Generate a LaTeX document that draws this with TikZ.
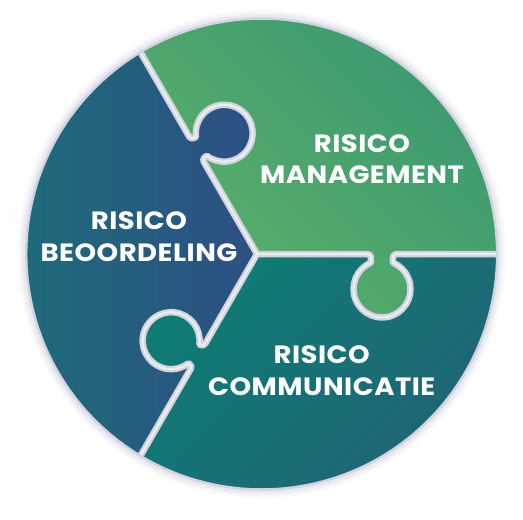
\documentclass[tikz,border=0pt]{standalone}
\usepackage{fontspec}
\setmainfont{Poppins}[FakeStretch=1.1, LetterSpace=2]
\definecolor{greenL}{HTML}{5DB06B}
\definecolor{greenD}{HTML}{3B9970}
\definecolor{blueL}{HTML}{1E6B7A}
\definecolor{blueD}{HTML}{2F4B85}
\definecolor{tealL}{HTML}{0E7D74}
\definecolor{tealD}{HTML}{216376}
\definecolor{gapc}{HTML}{D2D5DE}
\definecolor{gaphic}{HTML}{ECEDF2}
\definecolor{rimc}{HTML}{D3D4E2}
\definecolor{glowc}{HTML}{C4C6D6}
% knob part of an edge, local frame: x along the edge, knob on +y
\newcommand\knobpart[2]{({#1-14.5},0) .. controls ({#1-12.5},0) and ({#1-11},1.5) .. ({#1-11},3.5) -- ({#1-11},{#2-26.29}) arc[start angle=247.3, end angle=-67.3, radius=28.5] -- ({#1+11},3.5) .. controls ({#1+11},1.5) and ({#1+12.5},0) .. ({#1+14.5},0)}
\begin{document}
\begin{tikzpicture}[x=1pt,y=1pt,
  lbl/.style={text=white, font=\fontsize{25}{28}\selectfont\bfseries, inner sep=0pt, anchor=base},
  gap/.style={line width=6.5pt, draw=gapc, line join=round, line cap=round},
  gaphi/.style={line width=2.2pt, draw=gaphic, line join=round, line cap=round},
  greenshade/.style={left color=greenL, right color=greenD, shading angle=135},
  blueshade/.style={left color=blueL, right color=blueD, shading angle=90},
  tealshade/.style={left color=tealL, right color=tealD, shading angle=45}]
\useasboundingbox (-257,-266) rectangle (266,254);
\coordinate (J) at (0,0);
\coordinate (C) at (4.7,0);
% soft glow around the disc
\foreach \w/\o in {16/0.10,11/0.14,7/0.18}
  \draw[draw=glowc, line width=\w pt, opacity=\o] (C) circle (236);
\begin{scope}
  \clip (C) circle (236);
  % teal piece (whole disc as base)
  \shade[tealshade] (-120,-240) rectangle (245,5);
  % blue piece sector
  \begin{scope}
    \clip (J) -- (120:400) -- (180:400) -- (240:400) -- cycle;
    \shade[blueshade] (-235,-240) rectangle (30,240);
  \end{scope}
  % green piece sector
  \begin{scope}
    \clip (J) -- (0:400) -- (60:400) -- (120:400) -- cycle;
    \shade[greenshade] (-125,-70) rectangle (245,240);
  \end{scope}
  % green knob into teal
  \begin{scope}
    \clip[rotate=0, yscale=-1] (110.5,-2) -- \knobpart{125}{35} -- (139.5,-2) -- cycle;
    \shade[greenshade] (-125,-70) rectangle (245,240);
  \end{scope}
  % blue knob into green
  \begin{scope}
    \clip[rotate=120, yscale=-1] (106.5,-2) -- \knobpart{121}{32} -- (135.5,-2) -- cycle;
    \shade[blueshade] (-235,-240) rectangle (30,240);
  \end{scope}
  % teal knob into blue
  \begin{scope}
    \clip[rotate=240, yscale=-1] (103.5,-2) -- \knobpart{118}{31} -- (132.5,-2) -- cycle;
    \shade[tealshade] (-120,-240) rectangle (245,5);
  \end{scope}
  % gaps between the pieces
  \draw[gap, rotate=0, yscale=-1] (J) -- \knobpart{125}{35} -- (260,0);
  \draw[gap, rotate=120, yscale=-1] (J) -- \knobpart{121}{32} -- (260,0);
  \draw[gap, rotate=240, yscale=-1] (J) -- \knobpart{118}{31} -- (260,0);
  \draw[gaphi, rotate=0, yscale=-1] (J) -- \knobpart{125}{35} -- (260,0);
  \draw[gaphi, rotate=120, yscale=-1] (J) -- \knobpart{121}{32} -- (260,0);
  \draw[gaphi, rotate=240, yscale=-1] (J) -- \knobpart{118}{31} -- (260,0);
\end{scope}
% rim
\draw[draw=rimc, line width=2.5pt] (C) circle (235.5);
% labels
\node[lbl] (m1) at (105,102) {RISICO};
\node[lbl] (m2) at (105,70.7) {MANAGEMENT};
\node[lbl] (b1) at (-118,24.7) {RISICO};
\node[lbl] (b2) at (-118,-7.7) {BEOORDELING};
\node[lbl] (c1) at (64.7,-109.3) {RISICO};
\node[lbl] (c2) at (64.7,-141) {COMMUNICATIE};
\end{tikzpicture}
\end{document}
